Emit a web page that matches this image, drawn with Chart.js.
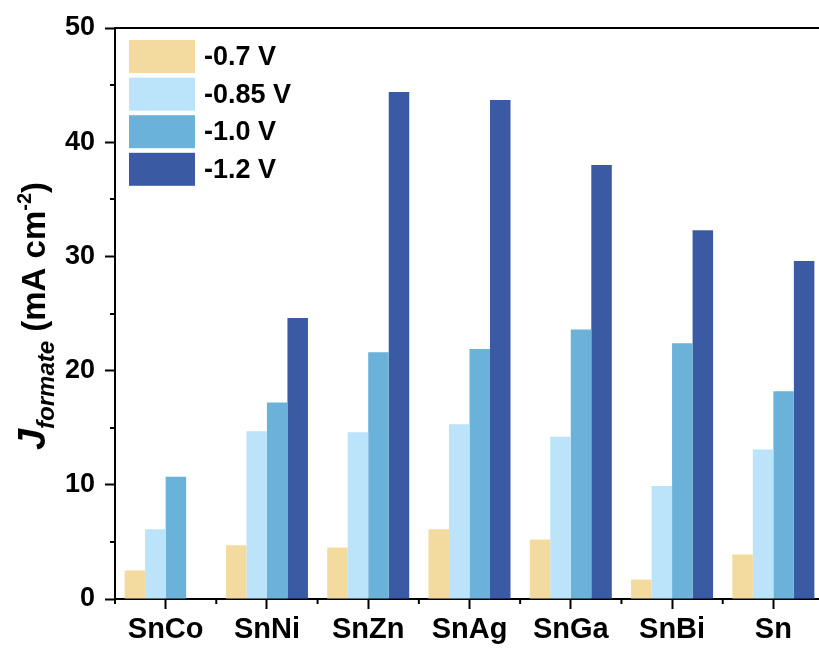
<!DOCTYPE html>
<html>
<head>
<meta charset="utf-8">
<script src="https://cdn.jsdelivr.net/npm/chart.js@4.4.1/dist/chart.umd.min.js"></script>
<style>
  html, body { margin: 0; padding: 0; background: #fff; overflow: hidden; }
  #wrap { width: 819px; height: 650px; overflow: hidden; }
  canvas { display: block; }
</style>
</head>
<body>
<div id="wrap"><canvas id="c" width="824" height="650"></canvas></div>
<script>
// Formate partial current density per catalyst at four applied potentials
const catalysts = ['SnCo', 'SnNi', 'SnZn', 'SnAg', 'SnGa', 'SnBi', 'Sn'];
const potentials = ['-0.7 V', '-0.85 V', '-1.0 V', '-1.2 V'];
const j070 = [2.5, 4.7, 4.5, 6.1, 5.2, 1.7, 3.9];
const j085 = [6.1, 14.7, 14.6, 15.3, 14.2, 9.9, 13.1];
const j100 = [10.7, 17.2, 21.6, 21.9, 23.6, 22.4, 18.2];
const j120 = [null, 24.6, 44.4, 43.7, 38.0, 32.3, 29.6];
const yTicks = [0, 10, 20, 30, 40, 50];
const colors = ['#F3DBA0', '#BBE3FA', '#6AB2D9', '#3A5BA3'];

const seriesValues = [j070, j085, j100, j120];

const tickFont = { family: 'Liberation Sans, Arial, sans-serif', weight: 'bold', size: 27 };

// Minor ticks, top frame line, legend and the rich-text y title
const decor = {
  id: 'decor',
  afterDraw(chart) {
    const ctx = chart.ctx;
    const { left, right, top, bottom } = chart.chartArea;
    const x = chart.scales.x, y = chart.scales.y;
    ctx.save();
    ctx.strokeStyle = '#000';
    ctx.lineWidth = 2;
    // top frame line
    ctx.beginPath();
    ctx.moveTo(left - 1, top);
    ctx.lineTo(right + 10, top);
    ctx.stroke();
    // minor y ticks
    for (let v = 5; v < 50; v += 10) {
      const py = Math.round(y.getPixelForValue(v));
      ctx.beginPath();
      ctx.moveTo(left, py);
      ctx.lineTo(left - 5, py);
      ctx.stroke();
    }
    // minor x ticks between categories
    for (let i = 0; i < catalysts.length; i++) {
      const px = x.getPixelForValue(i) - (x.getPixelForValue(1) - x.getPixelForValue(0)) / 2;
      ctx.beginPath();
      ctx.moveTo(px, bottom);
      ctx.lineTo(px, bottom + 5);
      ctx.stroke();
    }
    // legend
    const lx = 129, ly0 = 40, bw = 66, bh = 33, step = 37.6;
    chart.data.datasets.forEach((ds, i) => {
      const by = ly0 + i * step;
      ctx.fillStyle = ds.backgroundColor;
      ctx.fillRect(lx, by, bw, bh);
      ctx.fillStyle = '#000';
      ctx.font = 'bold 27px "Liberation Sans", Arial, sans-serif';
      ctx.textAlign = 'left';
      ctx.textBaseline = 'middle';
      ctx.fillText(ds.label, lx + bw + 9, by + bh / 2 + 1);
    });
    // y axis title: J_formate (mA cm^-2)
    const parts = [
      { t: 'J', f: 'italic bold 38px "Liberation Sans", Arial, sans-serif', dy: 0 },
      { t: 'formate', f: 'italic bold 24px "Liberation Sans", Arial, sans-serif', dy: 9 },
      { t: ' (mA cm', f: 'bold 33px "Liberation Sans", Arial, sans-serif', dy: 0 },
      { t: '-2', f: 'bold 20px "Liberation Sans", Arial, sans-serif', dy: -14 },
      { t: ')', f: 'bold 33px "Liberation Sans", Arial, sans-serif', dy: 0 }
    ];
    let total = 0;
    parts.forEach(p => { ctx.font = p.f; p.w = ctx.measureText(p.t).width; total += p.w; });
    ctx.translate(45, 316);
    ctx.rotate(-Math.PI / 2);
    ctx.fillStyle = '#000';
    ctx.textAlign = 'left';
    ctx.textBaseline = 'alphabetic';
    let cx = -total / 2;
    parts.forEach(p => {
      ctx.font = p.f;
      ctx.fillText(p.t, cx, p.dy);
      cx += p.w;
    });
    ctx.restore();
  }
};

new Chart(document.getElementById('c'), {
  type: 'bar',
  data: {
    labels: catalysts,
    datasets: potentials.map((p, i) => ({
      label: p,
      data: seriesValues[i],
      backgroundColor: colors[i],
      borderWidth: 0,
      barPercentage: 1.0,
      categoryPercentage: 0.81
    }))
  },
  options: {
    responsive: false,
    animation: false,
    devicePixelRatio: 1,
    layout: { padding: { top: 28, right: 0, bottom: 0, left: 0 } },
    plugins: { legend: { display: false }, tooltip: { enabled: false } },
    scales: {
      x: {
        offset: true,
        grid: { display: true, drawOnChartArea: false, offset: false, tickLength: 10, tickWidth: 2, tickColor: '#000' },
        border: { display: true, color: '#000', width: 2 },
        ticks: { color: '#000', font: { ...tickFont, size: 29 }, padding: 4, maxRotation: 0 },
        afterFit(s) { s.height = 51; }
      },
      y: {
        min: 0, max: 50,
        afterBuildTicks(s) { s.ticks = yTicks.map(v => ({ value: v })); },
        grid: { display: true, drawOnChartArea: false, tickLength: 10, tickWidth: 2, tickColor: '#000' },
        border: { display: true, color: '#000', width: 2 },
        ticks: { color: '#000', font: tickFont, padding: 10 },
        afterFit(s) { s.width = 115; }
      }
    }
  },
  plugins: [decor]
});
</script>
</body>
</html>
